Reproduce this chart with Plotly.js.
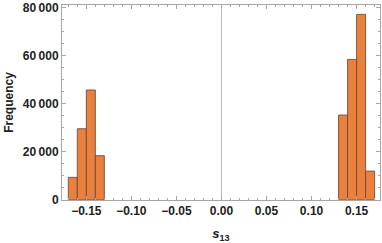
<!DOCTYPE html>
<html><head><meta charset="utf-8">
<script src="https://cdn.plot.ly/plotly-3.0.1.min.js"></script>
<style>html,body{margin:0;padding:0;background:#fff;}</style>
</head><body>
<div id="chart" style="width:382px;height:243px;"></div>
<script>
const binCenters = [-0.165, -0.155, -0.145, -0.135, 0.135, 0.145, 0.155, 0.165];
const frequency = [9400, 29600, 45700, 18400, 35300, 58400, 77100, 12000];
const binWidth = 0.01;
const xTickVals = [-0.15, -0.10, -0.05, 0.00, 0.05, 0.10, 0.15];
const yTickVals = [0, 20000, 40000, 60000, 80000];
const yTickText = ['0', '20\u2009000', '40\u2009000', '60\u2009000', '80\u2009000'];

const frameColor = '#a6a6a6';
const tickFont = {family: 'Liberation Sans, Arial, sans-serif', size: 12, color: '#222', weight: 'bold'};

Plotly.newPlot('chart', [{
  type: 'bar',
  x: binCenters,
  y: frequency,
  width: binCenters.map(() => binWidth),
  marker: {color: 'rgb(234,128,62)', line: {color: 'rgba(110,70,50,0.85)', width: 1}},
  hoverinfo: 'skip'
}], {
  width: 382, height: 243,
  margin: {l: 62, r: 2, t: 5, b: 43},
  paper_bgcolor: '#fff', plot_bgcolor: '#fff',
  showlegend: false,
  bargap: 0,
  xaxis: {
    range: [-0.177, 0.176],
    tickvals: xTickVals,
    tickformat: '.2f',
    ticks: 'inside', ticklen: 4, tickcolor: frameColor, tickwidth: 1,
    minor: {dtick: 0.01, tick0: 0, ticks: 'inside', ticklen: 2, tickcolor: frameColor, showgrid: false},
    showline: true, linecolor: frameColor, linewidth: 1, mirror: 'ticks',
    showgrid: false,
    zeroline: true, zerolinecolor: '#bdbdbd', zerolinewidth: 1,
    tickfont: tickFont,
    title: {text: '<i>s</i><sub>13</sub>', font: {family: 'Liberation Sans, Arial, sans-serif', size: 13, color: '#222', weight: 'bold'}, standoff: 13}
  },
  yaxis: {
    range: [0, 81000],
    tickvals: yTickVals,
    ticktext: yTickText,
    ticks: 'inside', ticklen: 4, tickcolor: frameColor, tickwidth: 1,
    minor: {dtick: 5000, tick0: 0, ticks: 'inside', ticklen: 2, tickcolor: frameColor, showgrid: false},
    showline: true, linecolor: frameColor, linewidth: 1, mirror: 'ticks',
    showgrid: false, zeroline: false,
    tickfont: tickFont,
    title: {text: 'Frequency', font: {family: 'Liberation Sans, Arial, sans-serif', size: 12, color: '#222', weight: 'bold'}, standoff: 6}
  }
}, {displayModeBar: false, staticPlot: true});
</script>
</body></html>
